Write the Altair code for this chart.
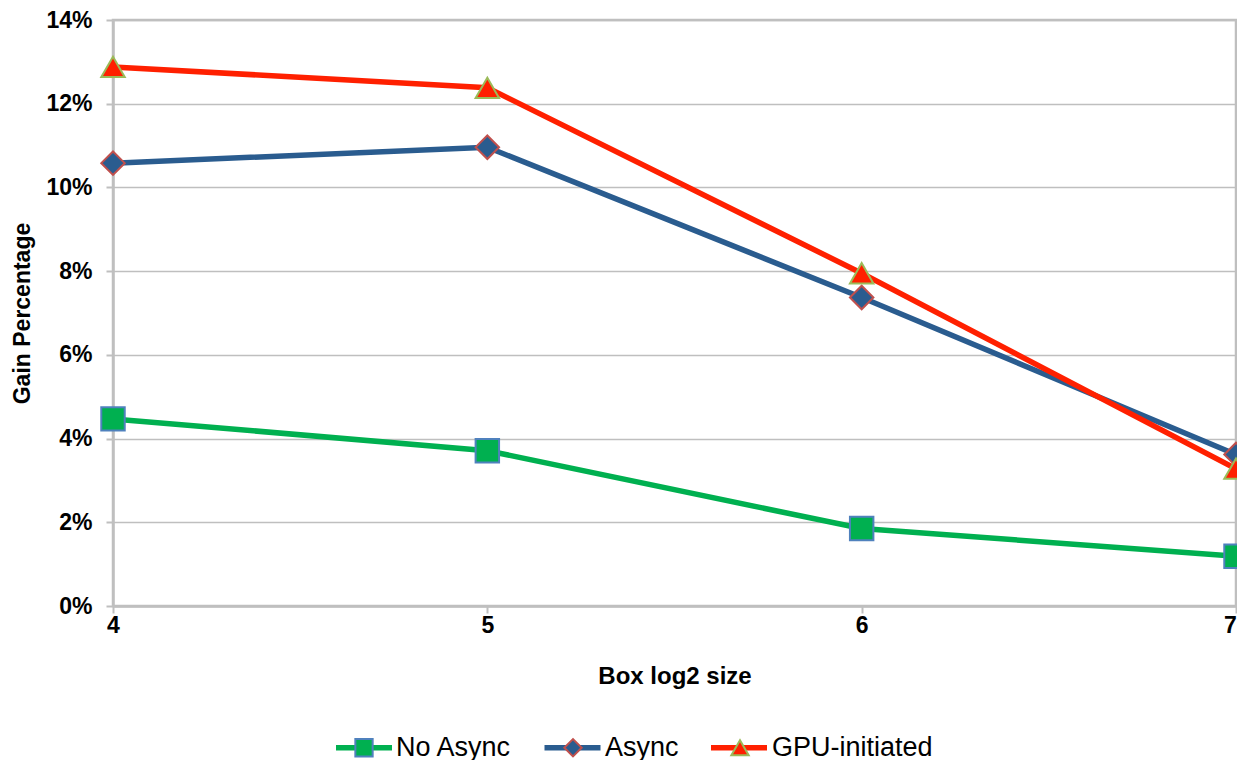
import altair as alt
import pandas as pd

box_sizes = [4, 5, 6, 7]
series_names = ["No Async", "Async", "GPU-initiated"]
no_async = [4.47, 3.71, 1.85, 1.19]
async_gain = [10.58, 10.96, 7.37, 3.62]
gpu_initiated = [12.88, 12.38, 7.95, 3.28]
y_ticks = [0, 0.02, 0.04, 0.06, 0.08, 0.10, 0.12, 0.14]

line_colors = ["#00B050", "#2A5C8F", "#FF2000"]
marker_strokes = ["#4F81BD", "#C0504D", "#9BBB59"]
marker_shapes = ["square", "diamond", "triangle-up"]

rows = []
for name, vals in zip(series_names, [no_async, async_gain, gpu_initiated]):
    for xv, v in zip(box_sizes, vals):
        rows.append({"size": xv, "gain": v / 100, "series": name})
df = pd.DataFrame(rows)

FONT = "Liberation Sans"
GRID = "#BFBFBF"

x_enc = alt.X(
    "size:Q",
    scale=alt.Scale(domain=[4, 7], nice=False, zero=False),
    axis=alt.Axis(values=box_sizes, format="d", title="Box log2 size", grid=False,
                  labelFlush=False, labelPadding=1, titlePadding=27, titleFontSize=24,
                  labelOffset={"expr": "datum.value == 7 ? -6 : 0"}),
)
y_enc = alt.Y(
    "gain:Q",
    scale=alt.Scale(domain=[0, 0.14], nice=False),
    axis=alt.Axis(values=y_ticks, format=".0%", title="Gain Percentage",
                  labelPadding=14, titlePadding=11, titleFontSize=23),
)

# Two legends laid on top of each other: one draws the line segments,
# the other the markers and the labels.
legend_common = dict(
    title=None, orient="none", legendX=220, legendY=714, direction="horizontal",
    labelFont=FONT, labelFontSize=27, labelOffset=18.5, labelLimit=400,
    symbolOffset=17.5, padding=0,
)
line_legend = alt.Legend(
    symbolType="M-4,0H4", symbolSize=196, symbolStrokeWidth=5.5, labelOpacity=0,
    columnPadding=21.5, **legend_common,
)
marker_legend = alt.Legend(
    symbolSize=300, symbolStrokeWidth=2, labelColor="black",
    columnPadding=30, **legend_common,
)

# data-driven (sorted) domain for the lines, explicit domain for the markers:
# this keeps the two legends from being merged
lines = alt.Chart(df).mark_line(strokeWidth=5.5).encode(
    x=x_enc, y=y_enc,
    color=alt.Color("series:N", sort=series_names, scale=alt.Scale(range=line_colors),
                    legend=line_legend),
)

points = alt.Chart(df).mark_point(filled=True, size=550, strokeWidth=2, opacity=1).encode(
    x=x_enc, y=y_enc,
    fill=alt.Fill("series:N", scale=alt.Scale(domain=series_names, range=line_colors),
                  legend=marker_legend),
    stroke=alt.Stroke("series:N", scale=alt.Scale(domain=series_names, range=marker_strokes),
                      legend=marker_legend),
    shape=alt.Shape("series:N", scale=alt.Scale(domain=series_names, range=marker_shapes),
                    legend=marker_legend),
)

chart = alt.layer(lines, points).properties(
    width=1123, height=586,
    autosize=alt.AutoSizeParams(type="none"),
    padding={"left": 105, "top": 12, "right": 1, "bottom": 154},
).configure_view(
    stroke=GRID, strokeWidth=2.5,
).configure_axis(
    domainColor=GRID, domainWidth=2.5,
    tickColor=GRID, tickWidth=2, tickSize=7,
    gridColor=GRID, gridWidth=1.5,
    labelFont=FONT, labelFontWeight="bold", labelFontSize=23, labelColor="black",
    titleFont=FONT, titleFontWeight="bold", titleColor="black",
)

chart.save("out.html", embed_options={"renderer": "svg", "actions": False})
